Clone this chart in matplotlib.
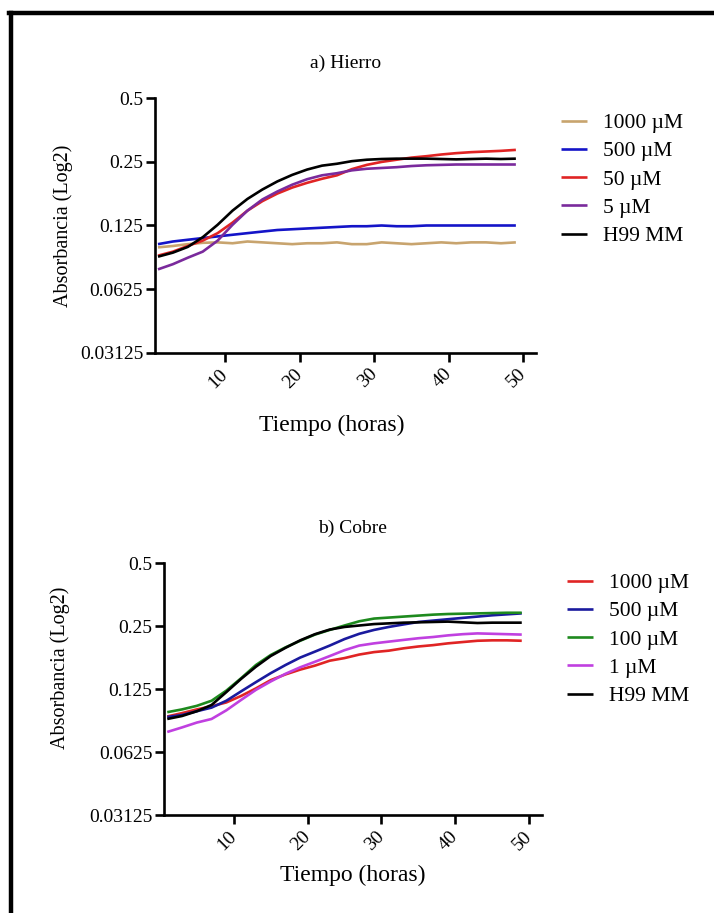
import matplotlib
matplotlib.use("Agg")
import matplotlib.pyplot as plt
from matplotlib.lines import Line2D
import numpy as np

plt.rcParams['font.family'] = ['Liberation Serif', 'DejaVu Serif']

# Time (hours)
hours = [1, 3, 5, 7, 9, 11, 13, 15, 17, 19, 21, 23, 25,
         27, 29, 31, 33, 35, 37, 39, 41, 43, 45, 47, 49]

# a) Iron
fe_labels = ["1000 µM", "500 µM", "50 µM", "5 µM", "H99 MM"]
fe_colors = ["#C8A46E", "#1414C8", "#E02424", "#7A2A9C", "#000000"]
fe_1000 = [0.0985, 0.100, 0.102, 0.1035, 0.104, 0.103, 0.105, 0.104, 0.103, 0.102,
           0.103, 0.103, 0.104, 0.102, 0.102, 0.104, 0.103, 0.102, 0.103, 0.104,
           0.103, 0.104, 0.104, 0.103, 0.104]
fe_500 = [0.102, 0.105, 0.107, 0.109, 0.111, 0.113, 0.115, 0.117, 0.119, 0.120,
          0.121, 0.122, 0.123, 0.124, 0.124, 0.125, 0.124, 0.124, 0.125, 0.125,
          0.125, 0.125, 0.125, 0.125, 0.125]
fe_50 = [0.090, 0.094, 0.100, 0.106, 0.115, 0.129, 0.147, 0.163, 0.177, 0.189,
         0.199, 0.208, 0.216, 0.231, 0.242, 0.250, 0.256, 0.262, 0.266, 0.271,
         0.275, 0.278, 0.280, 0.282, 0.285]
fe_5 = [0.0775, 0.082, 0.088, 0.094, 0.106, 0.126, 0.147, 0.166, 0.181, 0.195,
        0.207, 0.216, 0.221, 0.228, 0.232, 0.234, 0.236, 0.239, 0.241, 0.242,
        0.243, 0.243, 0.243, 0.243, 0.243]
fe_h99 = [0.089, 0.093, 0.099, 0.110, 0.126, 0.147, 0.167, 0.185, 0.202, 0.217,
          0.230, 0.240, 0.245, 0.252, 0.256, 0.258, 0.259, 0.259, 0.259, 0.258,
          0.257, 0.258, 0.259, 0.258, 0.259]

# b) Copper
cu_labels = ["1000 µM", "500 µM", "100 µM", "1 µM", "H99 MM"]
cu_colors = ["#E02424", "#1A1A9E", "#1E8A1E", "#C040E0", "#000000"]
cu_1000 = [0.0925, 0.096, 0.100, 0.1035, 0.108, 0.116, 0.126, 0.138, 0.147, 0.155,
           0.162, 0.171, 0.176, 0.183, 0.188, 0.191, 0.196, 0.200, 0.203, 0.207,
           0.210, 0.213, 0.214, 0.214, 0.213]
cu_500 = [0.092, 0.094, 0.098, 0.102, 0.110, 0.122, 0.135, 0.149, 0.163, 0.177,
          0.189, 0.202, 0.217, 0.230, 0.240, 0.248, 0.255, 0.262, 0.266, 0.270,
          0.274, 0.278, 0.282, 0.285, 0.288]
cu_100 = [0.097, 0.100, 0.104, 0.110, 0.123, 0.141, 0.163, 0.182, 0.198, 0.213,
          0.228, 0.240, 0.252, 0.264, 0.272, 0.275, 0.278, 0.281, 0.284, 0.286,
          0.287, 0.288, 0.289, 0.290, 0.290]
cu_1 = [0.078, 0.082, 0.0865, 0.090, 0.099, 0.111, 0.124, 0.136, 0.148, 0.159,
        0.169, 0.180, 0.192, 0.202, 0.207, 0.211, 0.215, 0.219, 0.222, 0.226,
        0.229, 0.231, 0.230, 0.229, 0.228]
cu_h99 = [0.090, 0.093, 0.098, 0.105, 0.121, 0.140, 0.160, 0.180, 0.197, 0.214,
          0.229, 0.241, 0.248, 0.252, 0.256, 0.258, 0.260, 0.261, 0.262, 0.263,
          0.261, 0.259, 0.260, 0.260, 0.260]

y_ticks = [0.03125, 0.0625, 0.125, 0.25, 0.5]
y_tick_labels = ["0.03125", "0.0625", "0.125", "0.25", "0.5"]
x_ticks = [10, 20, 30, 40, 50]

W, H = 714, 913
fig = plt.figure(figsize=(W / 100, H / 100), dpi=100)


def px_axes(left, top, right, bottom):
    return fig.add_axes([left / W, 1 - bottom / H, (right - left) / W, (bottom - top) / H])


def style_axes(ax, title, series, labels, colors, legend_top, legend_x):
    for vals, lab, col in zip(series, labels, colors):
        ax.plot(hours, vals, color=col, lw=1.9, label=lab, solid_capstyle='butt')
    ax.set_yscale('log', base=2)
    ax.set_ylim(0.03125, 0.5)
    ax.set_xlim(0.6, 51.7)
    ax.set_yticks(y_ticks)
    ax.set_yticklabels(y_tick_labels)
    ax.yaxis.set_minor_locator(matplotlib.ticker.NullLocator())
    ax.set_xticks(x_ticks)
    ax.set_xticklabels([str(v) for v in x_ticks], rotation=45, ha='right',
                       va='center', rotation_mode='anchor')
    for s in ['top', 'right']:
        ax.spines[s].set_visible(False)
    for s in ['left', 'bottom']:
        ax.spines[s].set_linewidth(1.9)
    ax.tick_params(axis='both', direction='out', length=6.5, width=1.9,
                   labelsize=14, pad=2)
    ax.tick_params(axis='x', pad=7)
    ax.set_title(title, fontsize=14, pad=22)
    ax.set_ylabel("Absorbancia (Log2)", fontsize=14.5)
    ax.set_xlabel("Tiempo (horas)", fontsize=17)
    ax.legend(loc='upper left', bbox_to_anchor=(legend_x, legend_top),
              bbox_transform=fig.transFigure, frameon=False, fontsize=15.5,
              handlelength=1.2, handletextpad=0.75, labelspacing=0.38,
              borderaxespad=0, borderpad=0)
    return ax


ax1 = px_axes(155, 98.3, 536, 352.7)
style_axes(ax1, "a) Hierro", [fe_1000, fe_500, fe_50, fe_5, fe_h99],
           fe_labels, fe_colors, 1 - 113 / H, 561 / W)
ax1.xaxis.set_label_coords((331.7 - 155) / (536 - 155), -0.245)
ax1.yaxis.set_label_coords(-0.216, 0.5)

ax2 = px_axes(164.3, 563.3, 541.7, 815)
style_axes(ax2, "b) Cobre", [cu_1000, cu_500, cu_100, cu_1, cu_h99],
           cu_labels, cu_colors, 1 - 573 / H, 567 / W)
ax2.xaxis.set_label_coords(0.5, -0.198)
ax2.yaxis.set_label_coords(-0.249, (815 - 668) / (815 - 563.3))

# Page frame
frame_lw = 3.2
fig.add_artist(Line2D([10.5 / W, 10.5 / W], [0, 1 - 13 / H], color='black',
                      lw=frame_lw, transform=fig.transFigure))
fig.add_artist(Line2D([9 / W, 1.0], [1 - 13 / H, 1 - 13 / H], color='black',
                      lw=frame_lw, transform=fig.transFigure))

fig.savefig("out.png", dpi=100, facecolor='white')
